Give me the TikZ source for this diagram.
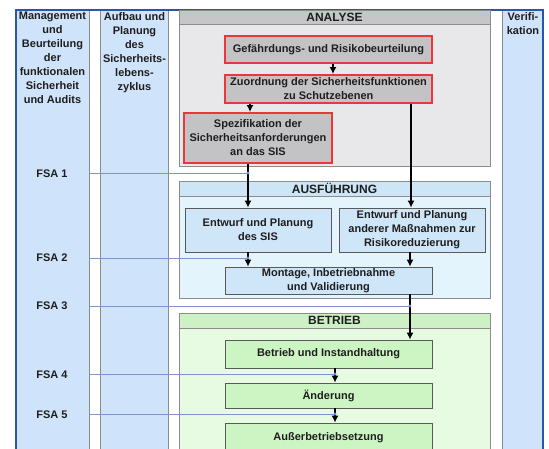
\documentclass[tikz,border=0pt]{standalone}
\usepackage{fontspec}
\setmainfont{Liberation Sans}
\usetikzlibrary{arrows.meta}
\definecolor{colblue}{HTML}{CFE4FA}
\definecolor{frameblue}{HTML}{2A56A8}
\definecolor{linegray}{HTML}{8C8C8C}
\definecolor{anabody}{HTML}{E8E8EA}
\definecolor{anahead}{HTML}{C6C6C8}
\definecolor{boxgray}{HTML}{C3C3C5}
\definecolor{boxred}{HTML}{E8383C}
\definecolor{ausbody}{HTML}{E3F4FD}
\definecolor{aushead}{HTML}{CCE6F7}
\definecolor{ausbox}{HTML}{CFE6F8}
\definecolor{betbody}{HTML}{E7FBE3}
\definecolor{bethead}{HTML}{CDF1C4}
\definecolor{betbox}{HTML}{CDF5C3}
\definecolor{fsablue}{HTML}{7F97C8}
\definecolor{fsadot}{HTML}{6F8FD0}
\definecolor{txtc}{HTML}{1E1E1E}
\tikzset{
  txt/.style={font=\bfseries\fontsize{11}{14}\selectfont, text=txtc, align=center, inner sep=0pt},
  headtxt/.style={font=\bfseries\fontsize{12}{14}\selectfont, text=txtc, inner sep=0pt},
  panel/.style={draw=linegray, line width=0.8pt, inner sep=0pt},
  redbox/.style={txt, draw=boxred, line width=2pt, fill=boxgray},
  bluebox/.style={txt, draw=black!65, line width=0.8pt, fill=ausbox},
  greenbox/.style={txt, draw=black!65, line width=0.8pt, fill=betbox},
  arr/.style={draw=black, line width=1.3pt, -{Latex[length=7pt,width=7pt]}},
  fsaline/.style={draw=fsablue, line width=0.9pt},
  fsalabel/.style={txt}
}
\begin{document}
\begin{tikzpicture}[x=1pt,y=-1pt]
\useasboundingbox (0,0) rectangle (549,448);
\clip (0,0) rectangle (549,448);
% columns
\fill[colblue] (16,10) rectangle (89,470);
\draw[linegray, line width=0.8pt] (89,10) -- (89,470);
\fill[colblue] (100,10) rectangle (168,470);
\draw[linegray, line width=0.8pt] (100,10) -- (100,470);
\draw[linegray, line width=0.8pt] (168,10) -- (168,470);
\fill[colblue] (502,10) rectangle (543,470);
\draw[linegray, line width=0.8pt] (502,10) -- (502,470);
\draw[frameblue, line width=1.6pt] (16,470) -- (16,10) -- (543,10) -- (543,470);
% column texts
\node[txt, anchor=north] (col1) at (52.5,12) {Management\\und\\Beurteilung\\der\\funktionalen\\Sicherheit\\und Audits};
\node[txt, anchor=north] (col2) at (134.5,12) {Aufbau und\\Planung\\des\\Sicherheits-\\lebens-\\zyklus};
\node[txt, anchor=north] (col4) at (523,12) {Verifi-\\kation};
% panels
\node[panel, fill=anabody, minimum width=311pt, minimum height=156pt] (ana) at (334.5,88) {};
\node[panel, fill=anahead, minimum width=311pt, minimum height=14pt, headtxt] (anah) at (334.5,17) {ANALYSE};
\node[panel, fill=ausbody, minimum width=311pt, minimum height=117pt] (aus) at (334.5,239.5) {};
\node[panel, fill=aushead, minimum width=311pt, minimum height=15pt, headtxt] (aush) at (334.5,188.5) {AUSFÜHRUNG};
\node[panel, fill=betbody, minimum width=311pt, minimum height=157pt] (bet) at (334.5,391.5) {};
\node[panel, fill=bethead, minimum width=311pt, minimum height=15pt, headtxt] (beth) at (334.5,320.5) {BETRIEB};
% boxes
\node[redbox, minimum width=207pt, minimum height=27pt] (gef) at (328.5,49.5) {Gefährdungs- und Risikobeurteilung};
\node[redbox, minimum width=207pt, minimum height=28pt] (zuo) at (328.5,89) {Zuordnung der Sicherheitsfunktionen\\zu Schutzebenen};
\node[redbox, minimum width=148pt, minimum height=50pt] (spez) at (258,138) {Spezifikation der\\Sicherheitsanforderungen\\an das SIS};
\node[bluebox, minimum width=146pt, minimum height=44pt] (sis) at (258,230) {Entwurf und Planung\\des SIS};
\node[bluebox, minimum width=146pt, minimum height=44pt] (and) at (412,230) {Entwurf und Planung\\anderer Maßnahmen zur\\Risikoreduzierung};
\node[bluebox, minimum width=207pt, minimum height=27pt] (mon) at (328.5,280.5) {Montage, Inbetriebnahme\\und Validierung};
\node[greenbox, minimum width=207pt, minimum height=28pt] (btr) at (328.5,354) {Betrieb und Instandhaltung};
\node[greenbox, minimum width=207pt, minimum height=25pt] (aend) at (328.5,395.5) {Änderung};
\node[greenbox, minimum width=207pt, minimum height=29pt] (ausser) at (328.5,437.5) {Außerbetriebsetzung};
% x positions for arrows
\coordinate (xa) at (333,0);
\coordinate (xb) at (250,0);
\coordinate (xc) at (248,0);
\coordinate (xd) at (411,0);
\coordinate (xe) at (410,0);
\coordinate (xf) at (335,0);
\coordinate (c1edge) at (89,0);
% FSA labels and coordinates
\node[fsalabel] (fsa1) at (52,174) {FSA 1};
\node[fsalabel] (fsa2) at (52,258) {FSA 2};
\node[fsalabel] (fsa3) at (52,306) {FSA 3};
\node[fsalabel] (fsa4) at (52,375) {FSA 4};
\node[fsalabel] (fsa5) at (52,415) {FSA 5};
\coordinate (e1) at (248,173);
\coordinate (e2) at (248,258);
\coordinate (e3) at (410,306);
\coordinate (e4) at (335,374);
\coordinate (e5) at (335,414);
\draw[fsaline] (e1 -| c1edge) -- (e1);
\draw[fsaline] (e2 -| c1edge) -- (e2);
\draw[fsaline] (e3 -| c1edge) -- (e3);
\draw[fsaline] (e4 -| c1edge) -- (e4);
\draw[fsaline] (e5 -| c1edge) -- (e5);
% arrows
\draw[arr] (gef.south -| xa) -- (zuo.north -| xa);
\draw[arr] (zuo.south -| xb) -- (spez.north -| xb);
\draw[arr] (spez.south -| xc) -- (sis.north -| xc);
\draw[arr] (zuo.south -| xd) -- (and.north -| xd);
\draw[arr] (sis.south -| xc) -- (mon.north -| xc);
\draw[arr] (and.south -| xe) -- (mon.north -| xe);
\draw[arr] (mon.south -| xe) -- (btr.north -| xe);
\draw[arr] (btr.south -| xf) -- (aend.north -| xf);
\draw[arr] (aend.south -| xf) -- (ausser.north -| xf);
% dots
\foreach \e in {e1,e2,e3,e4,e5} \fill[fsadot] (\e) circle (1.7pt);
\end{tikzpicture}
\end{document}
